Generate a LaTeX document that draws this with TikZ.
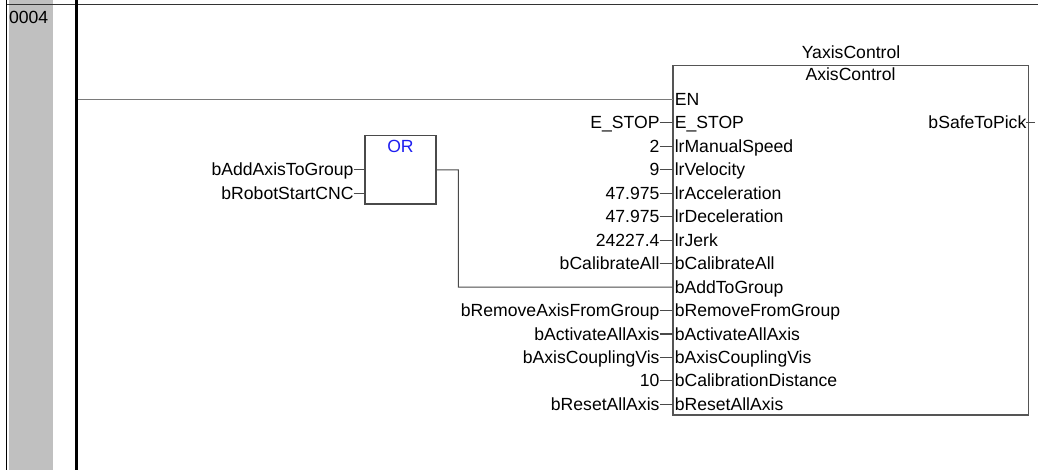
\documentclass[tikz,border=0pt]{standalone}
\usepackage{fontspec}
\setmainfont{Liberation Sans}
\usetikzlibrary{fit,calc}
\definecolor{colgray}{HTML}{C0C0C0}
\definecolor{wirecol}{HTML}{4A4A4A}
\definecolor{encol}{HTML}{7A7A7A}
\definecolor{boxcol}{HTML}{555555}
\definecolor{orblue}{HTML}{1E1EF0}
\begin{document}
\begin{tikzpicture}[x=0.75pt,y=-0.75pt,
  lbl/.style={inner sep=0pt,outer sep=0pt,font=\fontsize{13.2}{15}\selectfont},
  wire/.style={draw=wirecol,line width=0.8pt},
  enwire/.style={draw=encol,line width=1.3pt},
  fbox/.style={draw=boxcol,line width=0.8pt,inner sep=0pt},
  railline/.style={draw=black,line width=2.4pt},
  frameline/.style={draw=black!80,line width=0.8pt}]
\useasboundingbox (0,0) rectangle (1038,470);

% network number column
\fill[colgray] (9,0) rectangle (53,470);
\coordinate (edgeT) at (6.5,0);
\coordinate (edgeB) at (6.5,470);
\draw[frameline,draw=black] (edgeT) -- (edgeB);
\coordinate (sepL) at (6.5,4.3);
\coordinate (sepR) at (1038,4.3);
\draw[frameline] (sepL) -- (sepR);
\node[lbl,anchor=base west] (netno) at (9,23.8) {0004};

% function block AxisControl
\coordinate (fbNW) at (673,65.5);
\coordinate (fbSE) at (1028.3,415);
\node[fbox,fit=(fbNW)(fbSE)] (fb) {};
\node[lbl,anchor=base] (inst) at (851,58.8) {YaxisControl};
\node[lbl,anchor=base] (ftype) at (850.5,81) {AxisControl};

% input pins
\foreach \k/\p in {0/EN,1/E\_STOP,2/lrManualSpeed,3/lrVelocity,4/lrAcceleration,
  5/lrDeceleration,6/lrJerk,7/bCalibrateAll,8/bAddToGroup,9/bRemoveFromGroup,
  10/bActivateAllAxis,11/bAxisCouplingVis,12/bCalibrationDistance,13/bResetAllAxis}{
  \coordinate (in\k) at (673,99.5+23.45*\k);
  \node[lbl,anchor=base west] (p\k) at (674.8,99.5+23.45*\k+6) {\p};
}

% actual parameters
\foreach \k/\v in {1/E\_STOP,2/2,3/9,4/47.975,5/47.975,6/24227.4,7/bCalibrateAll,
  9/bRemoveAxisFromGroup,10/bActivateAllAxis,11/bAxisCouplingVis,12/10,13/bResetAllAxis}{
  \node[lbl,anchor=base east] (v\k) at (659.5,99.5+23.45*\k+6) {\v};
  \draw[wire] (v\k.east |- in\k) -- (in\k);
}

% output pin
\coordinate (out1) at (1028.3,122.95);
\coordinate (outEnd) at (1034.5,122.95);
\node[lbl,anchor=base west,anchor=base east] (q1) at (1026.3,128.95) {bSafeToPick};
\draw[wire] (q1.east |- out1) -- (outEnd);

% power rail and EN connection
\coordinate (railT) at (76.5,0);
\coordinate (railB) at (76.5,470);
\draw[enwire] (railT |- in0) -- (in0);
\draw[railline] (railT) -- (railB);

% OR block
\coordinate (orNW) at (365,135.7);
\coordinate (orSE) at (436,204);
\node[fbox,draw=wirecol,fit=(orNW)(orSE)] (orb) {};
\node[lbl,anchor=base,text=orblue] (ortxt) at (400.5,153) {OR};
\node[lbl,anchor=base east] (oa) at (353.5,175.85) {bAddAxisToGroup};
\node[lbl,anchor=base east] (ob) at (353.5,199.3) {bRobotStartCNC};
\draw[wire] (oa.east |- in3) -- (orb.west |- in3);
\draw[wire] (ob.east |- in4) -- (orb.west |- in4);
\coordinate (orbend) at (458.3,169.85);
\draw[wire] (orb.east |- in3) -- (orbend) |- (in8);
\end{tikzpicture}
\end{document}
